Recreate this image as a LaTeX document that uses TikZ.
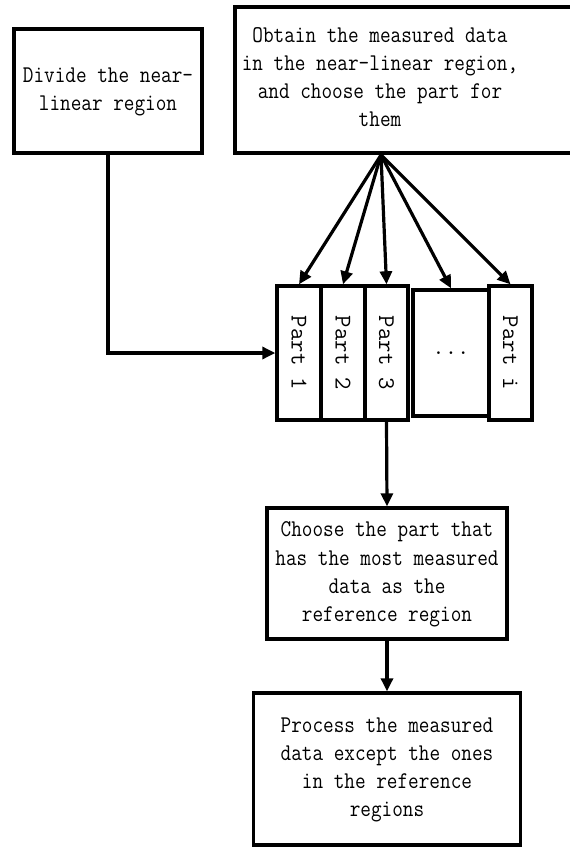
\documentclass[tikz,border=0pt]{standalone}
\usetikzlibrary{arrows.meta}
% narrow, tall typewriter lettering
\newcommand{\narrowtext}[1]{\scalebox{0.86}[1]{\begin{tabular}{@{}c@{}}#1\end{tabular}}}
\begin{document}
\begin{tikzpicture}[x=1pt,y=-1pt,
  box/.style={draw,line width=3.4pt,rectangle,inner sep=0pt,align=center,
    font=\ttfamily\fontsize{24}{28.2}\selectfont},
  partbox/.style={box,minimum height=134pt},
  label/.style={inner sep=0pt,align=center,font=\ttfamily\fontsize{24}{28.2}\selectfont},
  flow/.style={line width=3.2pt,-{Triangle[length=13pt,width=12pt]}}]
\useasboundingbox (0,0) rectangle (570,847);
\begin{scope}
\clip (0,0) rectangle (570,847);
% top boxes
\node[box,minimum width=188pt,minimum height=124pt] (divide) at (108,91)
  {\narrowtext{Divide the near-\\linear region}};
\node[box,minimum width=355pt,minimum height=146pt] (obtain) at (412.5,80) {};
\node[label] (obtaintxt) at (380,79)
  {\narrowtext{Obtain the measured data\\in the near-linear region,\\and choose the part for\\them}};
\coordinate (fan) at (381,155);
% the parts
\node[partbox,minimum width=44pt] (p1) at (299,353) {\rotatebox{-90}{Part 1}};
\node[partbox,minimum width=44pt] (p2) at (343,353) {\rotatebox{-90}{Part 2}};
\node[partbox,minimum width=43pt] (p3) at (386.5,353) {\rotatebox{-90}{Part 3}};
\node[box,minimum width=76pt,minimum height=126pt] (pdots) at (451,353) {...};
\node[partbox,minimum width=43pt] (pi) at (510.5,353) {\rotatebox{-90}{Part i}};
% lower boxes
\node[box,minimum width=240pt,minimum height=131pt] (choose) at (387,573.5)
  {\narrowtext{Choose the part that\\has the most measured\\data as the\\reference region}};
\node[box,minimum width=267pt,minimum height=152pt] (process) at (387,769)
  {\narrowtext{Process the measured\\data except the ones\\in the reference\\regions}};
% connectors
\draw[flow] (fan) -- (p1.north);
\draw[flow] (fan) -- (p2.north);
\draw[flow] (fan) -- (p3.north);
\draw[flow] (fan) -- (pdots.north);
\draw[flow] (fan) -- (pi.north);
\draw[flow] (divide.south) |- (p1.west);
\draw[flow] (p3.south) -- (choose.north);
\draw[flow] (choose.south) -- (process.north);
\end{scope}
\end{tikzpicture}
\end{document}
